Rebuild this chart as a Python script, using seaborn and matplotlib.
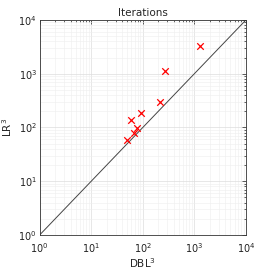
import numpy as np
import pandas as pd
import matplotlib
matplotlib.use('Agg')
import matplotlib.pyplot as plt
import seaborn as sns

# data
dbl = [50, 58, 67, 78, 94, 214, 270, 1313]
lr = [58, 138, 80, 99, 189, 302, 1140, 3280]
diag = [1, 10000]

df = pd.DataFrame({'DBL': dbl, 'LR': lr})

sns.set_style('white')
plt.rcParams['font.family'] = ['DejaVu Sans']

fig = plt.figure(figsize=(2.73, 2.73), dpi=100)
ax = fig.add_axes([0.145, 0.139, 0.756, 0.788])

ax.plot(diag, diag, color='#444444', lw=0.7)
sns.scatterplot(data=df, x='DBL', y='LR', marker='x', color='red', s=22,
                linewidth=0.9, ax=ax, zorder=3)

ax.set_xscale('log')
ax.set_yscale('log')
ax.set_xlim(1, 1e4)
ax.set_ylim(1, 1e4)
ax.set_xticks([1, 10, 100, 1000, 10000])
ax.set_yticks([1, 10, 100, 1000, 10000])
ax.grid(True, which='major', color='#dddddd', lw=0.5)
ax.grid(True, which='minor', color='#eeeeee', lw=0.4)
ax.tick_params(which='both', direction='in', top=True, right=True,
               labelsize=7, length=3, width=0.5, pad=2, colors='#222222')
ax.tick_params(axis='x', which='both', pad=4.5)
ax.tick_params(which='minor', length=1.5)
for s in ax.spines.values():
    s.set_linewidth(0.6)
    s.set_color('#333333')

ax.set_title('Iterations', fontsize=7.5, pad=3)
ax.set_xlabel('DBL$^3$', fontsize=7.5)
ax.set_ylabel('LR$^3$', fontsize=7.5)
ax.xaxis.set_label_coords(0.5, -0.1)
ax.yaxis.set_label_coords(-0.125, 0.5)

fig.savefig('out.png', dpi=100)
